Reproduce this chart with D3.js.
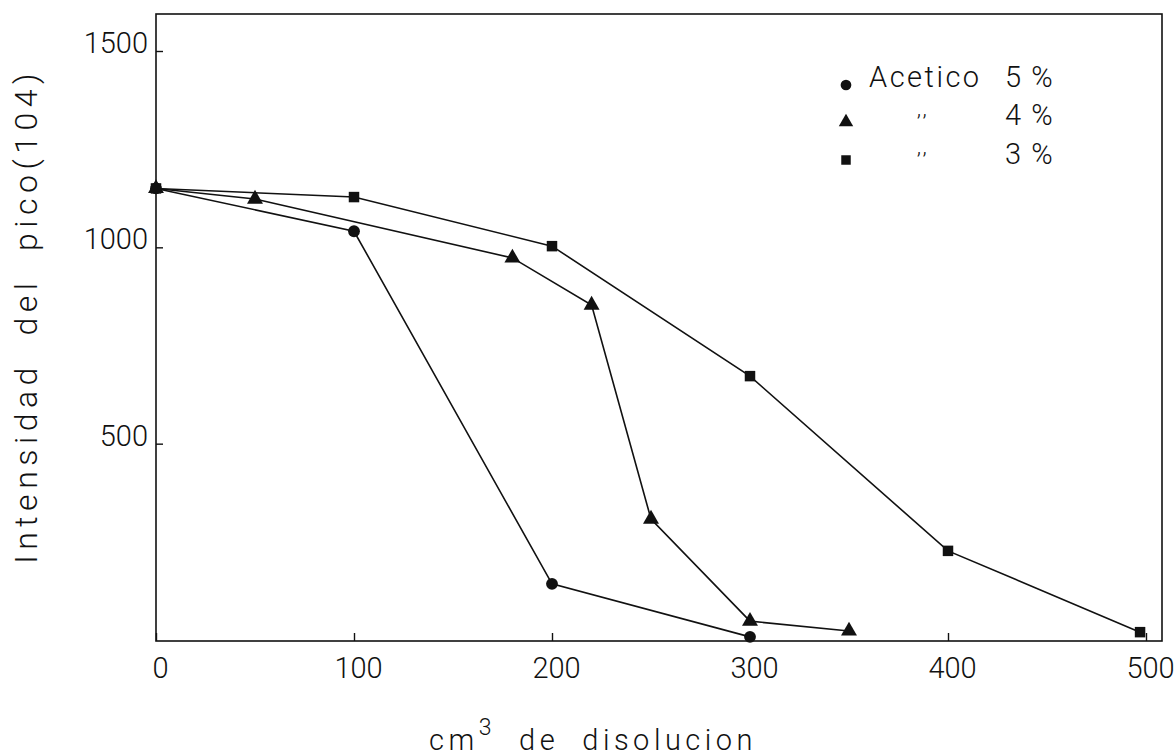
<!DOCTYPE html>
<html>
<head>
<meta charset="utf-8">
<script src="https://cdn.jsdelivr.net/npm/d3@7"></script>
<style>
  body { margin: 0; background: #fff; }
  text { font-family: Roboto, "DejaVu Sans", sans-serif; font-weight: 300; fill: #111; white-space: pre; }
</style>
</head>
<body>
<div id="chart"></div>
<script>
// values
var acetico5 = [[0, 1150], [100, 1041], [200, 143], [300, 8]];
var acetico4 = [[0, 1150], [50, 1123], [180, 973], [220, 853], [250, 308], [300, 48], [350, 23]];
var acetico3 = [[0, 1150], [100, 1128], [200, 1003], [300, 672], [400, 227], [497, 20]];
var xTicks = [0, 100, 200, 300, 400, 500];
var yTicks = [500, 1000, 1500];
var legendLabels = ["5 %", "4 %", "3 %"];

var svgWidth = 1175, svgHeight = 756;
var margin = { top: 14, left: 156 };

var svg = d3.select("#chart").append("svg")
  .attr("width", svgWidth)
  .attr("height", svgHeight);

var xScale = d3.scaleLinear().domain([0, 500]).range([156, 1146]);
var yScale = d3.scaleLinear().domain([0, 1500]).range([640, 51]);

// frame
svg.append("rect")
  .attr("x", xScale(0))
  .attr("y", margin.top)
  .attr("width", 1162 - xScale(0))
  .attr("height", 641 - margin.top)
  .attr("fill", "none")
  .attr("stroke", "#111")
  .attr("stroke-width", 1.6);

// axes
var bottomAxis = d3.axisBottom(xScale).tickValues(xTicks).tickFormat(d3.format("d"))
  .tickSizeInner(-8).tickSizeOuter(0).tickPadding(16);
var leftAxis = d3.axisLeft(yScale).tickValues(yTicks).tickFormat(d3.format("d"))
  .tickSizeInner(-7).tickSizeOuter(0).tickPadding(8);

var gx = svg.append("g").attr("transform", "translate(0, 641)").call(bottomAxis);
var gy = svg.append("g").attr("transform", "translate(156, 0)").call(leftAxis);

[gx, gy].forEach(function(g) {
  g.select(".domain").remove();
  g.selectAll("line").attr("stroke", "#111").attr("stroke-width", 1.4);
  g.selectAll("text")
    .style("font-family", "Roboto, 'DejaVu Sans', sans-serif")
    .style("font-weight", 300)
    .style("font-size", "29px")
    .attr("fill", "#111");
});
gx.selectAll("text").attr("dx", "4");
gy.selectAll("text").attr("dy", "0.05em");

// axis titles
svg.append("text")
  .attr("transform", "translate(37, 316) rotate(-90)")
  .style("text-anchor", "middle")
  .style("font-size", "32px")
  .style("letter-spacing", "5.5px")
  .text("Intensidad  del  pico(104)");

var xt = svg.append("text")
  .attr("x", 593)
  .attr("y", 750)
  .style("text-anchor", "middle")
  .style("font-size", "29px")
  .style("letter-spacing", "4.5px");
xt.append("tspan").text("cm");
xt.append("tspan").attr("dy", -15).style("font-size", "23px").text("3");
xt.append("tspan").attr("dy", 15).text("  de  disolucion");

// lines
var line = d3.line().x(d => xScale(d[0])).y(d => yScale(d[1]));
var series = [acetico5, acetico4, acetico3];
svg.selectAll(".serie")
  .data(series)
  .enter()
  .append("path")
  .attr("class", "serie")
  .attr("d", line)
  .attr("fill", "none")
  .attr("stroke", "#111")
  .attr("stroke-width", 1.6);

// markers
var symbolTypes = [d3.symbolCircle, d3.symbolTriangle, d3.symbolSquare];

series.forEach(function(s, i) {
  svg.selectAll(".m" + i)
    .data(s)
    .enter()
    .append("path")
    .attr("class", "m" + i)
    .attr("transform", d => `translate(${xScale(d[0])}, ${yScale(d[1])})`)
    .attr("d", d3.symbol().type(symbolTypes[i]).size(110))
    .attr("fill", "#111");
});

// legend
var legendY = [85, 122, 160];
var legend = svg.append("g");
legendLabels.forEach(function(lab, i) {
  legend.append("path")
    .attr("transform", `translate(846, ${legendY[i]})`)
    .attr("d", d3.symbol().type(symbolTypes[i]).size(90)())
    .attr("fill", "#111");
  legend.append("text")
    .attr("x", 1005)
    .attr("y", legendY[i] + 2 + i)
    .style("font-size", "29px")
    .style("letter-spacing", "1.5px")
    .text(lab);
  if (i == 0) {
    legend.append("text")
      .attr("x", 869)
      .attr("y", legendY[i] + 2)
      .style("font-size", "29px")
      .style("letter-spacing", "2.5px")
      .text("Acetico");
  } else {
    legend.append("text")
      .attr("x", 917)
      .attr("y", legendY[i] - 6)
      .style("font-size", "22px")
      .style("letter-spacing", "2px")
      .text("\u201A\u201A");
  }
});
</script>
</body>
</html>
